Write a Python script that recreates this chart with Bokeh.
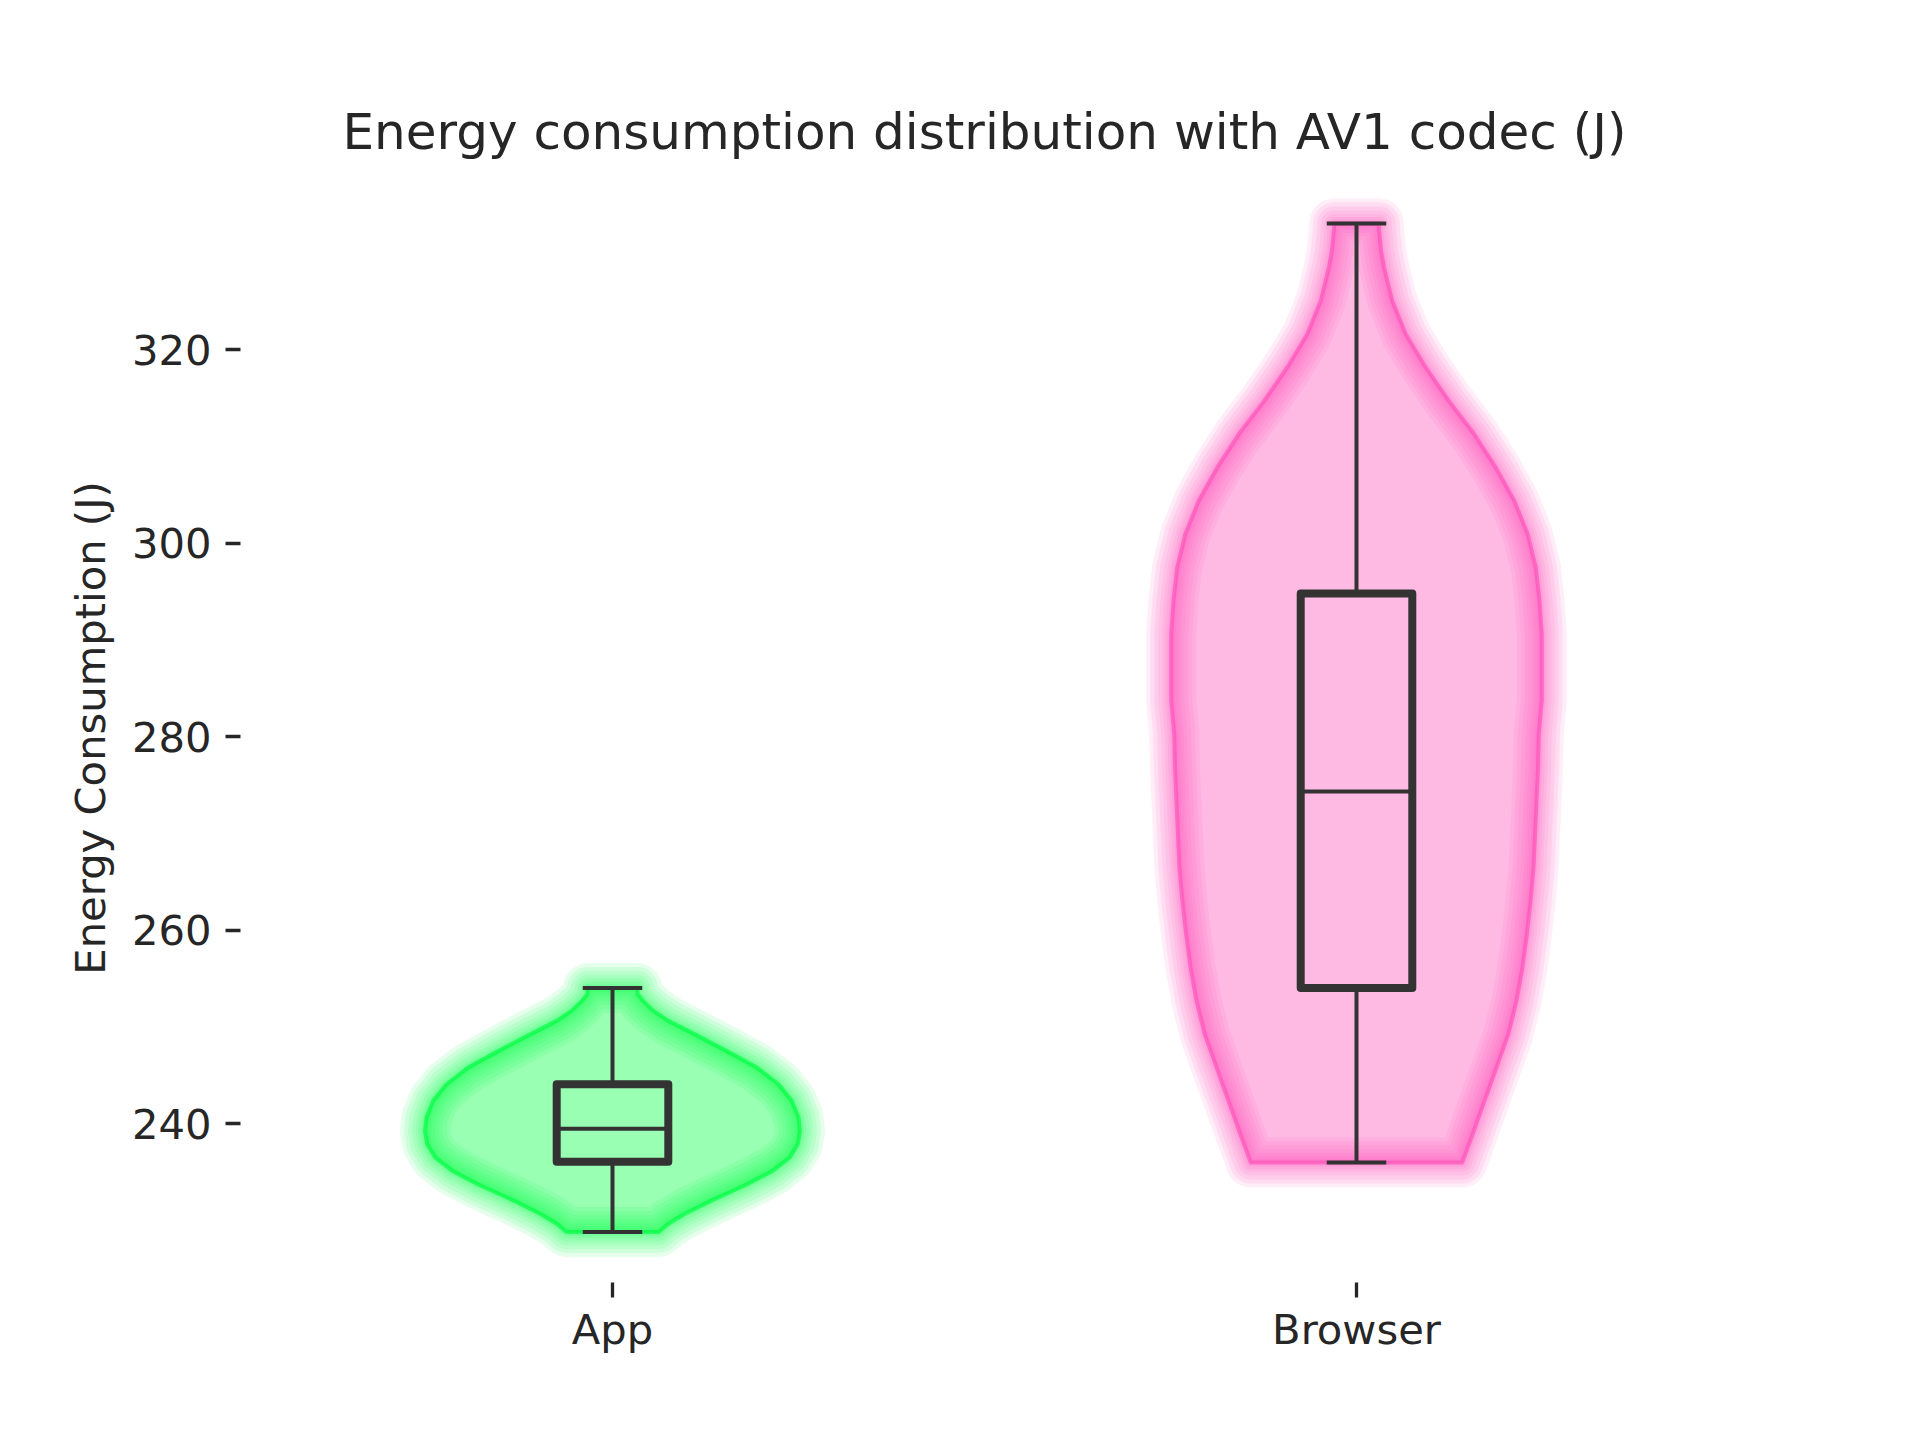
from bokeh.plotting import figure
from bokeh.models import Range1d, FixedTicker
from bokeh.embed import file_html
from bokeh.resources import INLINE

# ---------------- data ----------------
categories = ["App", "Browser"]
y_ticks = [240, 260, 280, 300, 320]

# violin outlines: energy level (J) and half-width (category units)
app_levels = [254.00, 253.37, 252.68, 251.65, 250.61, 249.24, 247.51, 245.78,
              244.06, 242.34, 240.61, 239.23, 237.86, 236.47, 235.10, 233.72,
              232.00, 230.62, 229.59, 228.79]
app_half = [0.033, 0.034, 0.041, 0.055, 0.075, 0.110, 0.153, 0.194,
            0.223, 0.241, 0.250, 0.252, 0.249, 0.238, 0.215, 0.181,
            0.132, 0.096, 0.074, 0.062]

browser_levels = [333.07, 332.66, 330.25, 328.52, 325.08, 321.63, 318.18, 314.72,
                  311.29, 307.84, 304.39, 300.95, 297.49, 294.05, 290.61, 285.78,
                  283.71, 280.26, 276.81, 273.36, 269.92, 266.47, 263.02, 259.58,
                  256.12, 252.68, 249.24, 245.78, 242.34, 238.89, 235.96]
browser_half = [0.030, 0.030, 0.033, 0.037, 0.048, 0.066, 0.093, 0.124,
                0.158, 0.187, 0.212, 0.230, 0.241, 0.246, 0.249, 0.249,
                0.249, 0.245, 0.244, 0.242, 0.240, 0.238, 0.234, 0.229,
                0.223, 0.215, 0.204, 0.188, 0.172, 0.156, 0.142]

# box statistics: min, Q1, median, Q3, max
app_stats = [228.79, 236.05, 239.47, 244.06, 254.00]
browser_stats = [235.96, 254.00, 274.33, 294.79, 333.07]

colors = ["#00ff41", "#FE53BB"]

# ---------------- figure ----------------
FONT = "DejaVu Sans"
TXT = "#262626"

p = figure(width=1904, height=1424, output_backend="svg", toolbar_location=None,
           x_range=Range1d(-0.5, 1.5), y_range=Range1d(223.56, 338.23),
           min_border_left=240, min_border_right=176,
           min_border_top=173, min_border_bottom=142,
           background_fill_color="white", border_fill_color="white")
p.outline_line_color = None
p.xgrid.visible = False
p.ygrid.visible = False

p.title.text = "Energy consumption distribution with AV1 codec (J)"
p.title.align = "center"
p.title.text_font = FONT
p.title.text_font_size = "50px"
p.title.text_font_style = "normal"
p.title.text_color = TXT
p.title.standoff = 25

for ax in (p.xaxis[0], p.yaxis[0]):
    ax.axis_line_color = None
    ax.major_tick_line_color = TXT
    ax.major_tick_line_width = 3.3
    ax.major_tick_out = 15
    ax.major_tick_in = 0
    ax.minor_tick_line_color = None
    ax.major_label_text_font = FONT
    ax.major_label_text_font_size = "41.7px"
    ax.major_label_text_color = TXT
    ax.major_label_standoff = 14

p.xaxis.major_label_standoff = 7
p.xaxis.ticker = FixedTicker(ticks=list(range(len(categories))))
p.xaxis.major_label_overrides = {i: c for i, c in enumerate(categories)}
p.yaxis.ticker = FixedTicker(ticks=y_ticks)
p.yaxis.axis_label = "Energy Consumption (J)"
p.yaxis.axis_label_text_font = FONT
p.yaxis.axis_label_text_font_size = "41.7px"
p.yaxis.axis_label_text_font_style = "normal"
p.yaxis.axis_label_text_color = TXT
p.yaxis.axis_label_standoff = 14

violins = [(app_levels, app_half, app_stats), (browser_levels, browser_half, browser_stats)]

for i, (levels, half, stats) in enumerate(violins):
    col = colors[i]
    xs = [i - h for h in half] + [i + h for h in reversed(half)]
    ys = list(levels) + list(reversed(levels))
    # fill
    p.patch(xs, ys, fill_color=col, fill_alpha=0.4, line_color=None)
    # glow
    for w in [50, 42, 34, 26, 19, 13, 8]:
        p.patch(xs, ys, fill_color=None, line_color=col, line_alpha=0.1,
                line_width=w, line_join="round")
    p.patch(xs, ys, fill_color=None, line_color=col, line_alpha=0.7,
            line_width=4, line_join="round")

    mn, q1, med, q3, mx = stats
    box_h = 0.075
    cap_h = 0.040
    p.segment(x0=[i, i], y0=[mn, q3], x1=[i, i], y1=[q1, mx],
              line_color="#333333", line_width=4)
    p.segment(x0=[i - cap_h, i - cap_h], y0=[mn, mx], x1=[i + cap_h, i + cap_h], y1=[mn, mx],
              line_color="#333333", line_width=4)
    p.quad(left=[i - box_h], right=[i + box_h], bottom=[q1], top=[q3],
           fill_color=None, line_color="#333333", line_width=8, line_join="round")
    p.segment(x0=[i - box_h], y0=[med], x1=[i + box_h], y1=[med],
              line_color="#333333", line_width=4)

open("out.html", "w").write(file_html(p, INLINE))
